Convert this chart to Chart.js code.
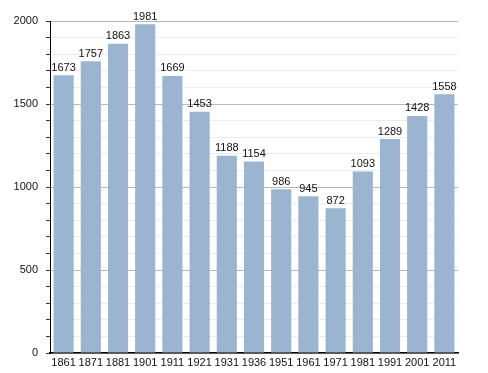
<!DOCTYPE html>
<html>
<head>
<meta charset="utf-8">
<script src="https://cdn.jsdelivr.net/npm/chart.js"></script>
<style>
  html, body { margin: 0; padding: 0; background: #fff; }
  #wrap { width: 488px; height: 373px; }
</style>
</head>
<body>
<div id="wrap"><canvas id="myChart" width="488" height="373"></canvas></div>
<script>
const years = ["1861","1871","1881","1901","1911","1921","1931","1936","1951","1961","1971","1981","1991","2001","2011"]
const population = [1673,1757,1863,1981,1669,1453,1188,1154,986,945,872,1093,1289,1428,1558]
const yTicks = [0,500,1000,1500,2000]

// labels above each bar
const valueLabels = {
  id: 'valueLabels',
  afterDatasetsDraw(chart) {
    const ctx = chart.ctx
    const meta = chart.getDatasetMeta(0)
    ctx.save()
    ctx.font = '11px "Liberation Sans", Arial, sans-serif'
    ctx.fillStyle = '#111'
    ctx.textAlign = 'center'
    ctx.textBaseline = 'bottom'
    meta.data.forEach((bar, i) => {
      ctx.fillText(population[i], bar.x, bar.y - 2)
    })
    ctx.restore()
  }
}

Chart.defaults.font.family = '"Liberation Sans", Arial, sans-serif'
Chart.defaults.font.size = 11
Chart.defaults.color = '#111'

new Chart("myChart", {
  type: "bar",
  data: {
    labels: years,
    datasets: [{
      data: population,
      backgroundColor: "#9bb4d0",
      borderWidth: 0,
      barPercentage: 0.74,
      categoryPercentage: 1
    }]
  },
  options: {
    responsive: false,
    animation: false,
    layout: { padding: { left: 0, right: 30, top: 21, bottom: 0 } },
    plugins: { legend: { display: false }, tooltip: { enabled: false } },
    scales: {
      x: {
        afterFit(scale) { scale.height = 20 },
        grid: { display: false, drawTicks: false, tickLength: 0 },
        border: { color: '#000', width: 1.5 },
        ticks: { padding: 3, maxRotation: 0, autoSkip: false, color: '#111' }
      },
      y: {
        min: 0,
        max: 2000,
        afterFit(scale) { scale.width = 50 },
        border: { color: '#000', width: 1 },
        grid: {
          color: c => (c.tick.value % 500 === 0 ? '#b8b8b8' : '#ececec'),
          tickColor: '#333',
          tickLength: 4,
          lineWidth: 1
        },
        ticks: {
          stepSize: 100,
          padding: 8,
          color: '#111',
          callback: v => (yTicks.includes(v) ? v : '')
        }
      }
    }
  },
  plugins: [valueLabels]
});
</script>
</body>
</html>
